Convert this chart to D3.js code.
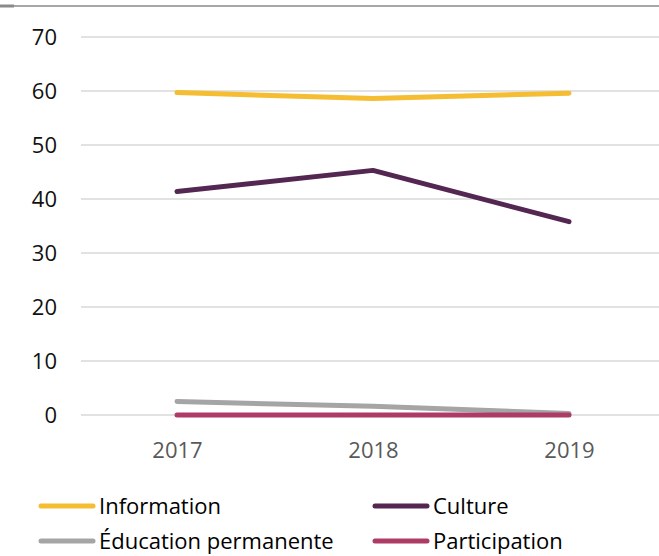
<!DOCTYPE html>
<html>
<head>
<meta charset="utf-8">
<script src="https://cdn.jsdelivr.net/npm/d3@7"></script>
<style>
  body { margin: 0; background: #fff; }
  svg { display: block; font-family: "Open Sans", sans-serif; }
</style>
</head>
<body>
<svg id="chart"></svg>
<script>
const width = 659;
const height = 556;

const years = ['2017', '2018', '2019'];
const yTicks = [0, 10, 20, 30, 40, 50, 60, 70];

const information = [59.7, 58.6, 59.6];
const culture = [41.4, 45.3, 35.8];
const education = [2.5, 1.6, 0.3];
const participation = [0, 0, 0];

const series = [
  {name: 'Information', color: '#F4BD32', values: information},
  {name: 'Culture', color: '#532752', values: culture},
  {name: 'Éducation permanente', color: '#A5A5A5', values: education},
  {name: 'Participation', color: '#AD3B66', values: participation}
];

const svg = d3.select('#chart')
  .attr('width', width)
  .attr('height', height);

// cropped frame line at the top
svg.append('line')
  .attr('x1', 0).attr('x2', width)
  .attr('y1', 6).attr('y2', 6)
  .attr('stroke', '#8a8a8a')
  .attr('stroke-width', 1.5);
svg.append('line')
  .attr('x1', 0).attr('x2', 14)
  .attr('y1', 6).attr('y2', 6)
  .attr('stroke', '#8a8a8a')
  .attr('stroke-width', 3);

const x = d3.scalePoint()
  .domain(years)
  .range([177, 569]);

const y = d3.scaleLinear()
  .domain([0, 70])
  .range([415, 37]);

// gridlines
svg.append('g')
  .selectAll('line')
  .data(yTicks)
  .join('line')
    .attr('x1', 81)
    .attr('x2', width)
    .attr('y1', d => y(d))
    .attr('y2', d => y(d))
    .attr('stroke', '#d9d9d9')
    .attr('stroke-width', 1.5);

const yAxis = svg.append('g')
  .attr('transform', 'translate(57,0)')
  .call(d3.axisLeft(y).tickValues(yTicks).tickSize(0).tickPadding(0));
yAxis.select('.domain').remove();
yAxis.selectAll('text')
  .attr('fill', '#111')
  .style('font-size', '22px')
  .style('font-family', '"Open Sans", sans-serif');

const xAxis = svg.append('g')
  .attr('transform', 'translate(0,442)')
  .call(d3.axisBottom(x).tickSize(0).tickPadding(0));
xAxis.select('.domain').remove();
xAxis.selectAll('text')
  .attr('fill', '#595959')
  .style('font-size', '22px')
  .style('font-family', '"Open Sans", sans-serif');

const line = d3.line()
  .x((d, i) => x(years[i]))
  .y(d => y(d));

svg.append('g')
  .selectAll('path')
  .data(series)
  .join('path')
    .attr('d', s => line(s.values))
    .attr('fill', 'none')
    .attr('stroke', s => s.color)
    .attr('stroke-width', 5)
    .attr('stroke-linecap', 'round')
    .attr('stroke-linejoin', 'round');

// legend, 2x2 like the original
// (second row nudged up a bit so the descenders stay inside the page)
const legendPos = [
  {x: 41, y: 506},
  {x: 375, y: 506},
  {x: 41, y: 541},
  {x: 375, y: 541}
];

const legend = svg.append('g')
  .selectAll('g')
  .data(series)
  .join('g')
    .attr('transform', (d, i) => `translate(${legendPos[i].x},${legendPos[i].y})`);

legend.append('line')
  .attr('x1', 0).attr('x2', 52)
  .attr('stroke', d => d.color)
  .attr('stroke-width', 5)
  .attr('stroke-linecap', 'round');

legend.append('text')
  .attr('x', 58)
  .attr('dy', '0.35em')
  .attr('fill', '#000')
  .style('font-size', '22px')
  .text(d => d.name);
</script>
</body>
</html>
